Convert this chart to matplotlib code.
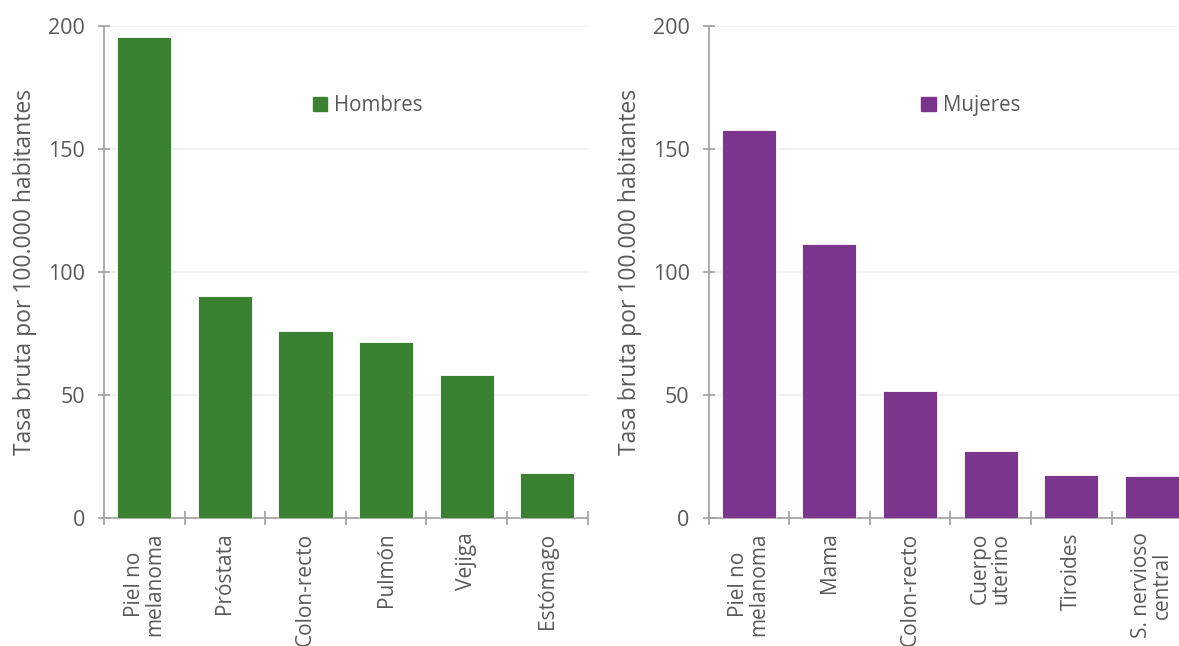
import matplotlib
matplotlib.use("Agg")
import matplotlib.pyplot as plt
from matplotlib.patches import Patch

plt.rcParams['font.family'] = ['Open Sans', 'DejaVu Sans']

cats_h = ["Piel no\nmelanoma", "Próstata", "Colon-recto", "Pulmón", "Vejiga", "Estómago"]
vals_h = [195.4, 90.1, 75.9, 71.4, 57.9, 18.3]
cats_m = ["Piel no\nmelanoma", "Mama", "Colon-recto", "Cuerpo\nuterino", "Tiroides", "S. nervioso\ncentral"]
vals_m = [157.5, 111.3, 51.5, 27.0, 17.5, 17.1]
yticks = [0, 50, 100, 150, 200]
ylabel = "Tasa bruta por 100.000 habitantes"

green = "#3A8231"
purple = "#7B358C"
gray = "#A6A6A6"
txt = "#595959"

fig = plt.figure(figsize=(11.79, 6.46), dpi=100)
ax1 = fig.add_axes([104/1179, 128.3/646, 483.6/1179, 492/646])
ax2 = fig.add_axes([708.5/1179, 128.3/646, 483.6/1179, 492/646])

for ax, cats, vals, col, name, lx in [
        (ax1, cats_h, vals_h, green, "Hombres", 0.432),
        (ax2, cats_m, vals_m, purple, "Mujeres", 0.44)]:
    x = list(range(len(cats)))
    ax.bar(x, vals, width=0.67, color=col, edgecolor="#FFFFFF", linewidth=0.6, zorder=3)
    ax.set_xlim(-0.5, len(cats) - 0.5)
    ax.set_ylim(0, 200)
    ax.set_yticks(yticks)
    ax.set_yticklabels([str(t) for t in yticks])
    ax.grid(axis='y', color="#EFEFEF", linewidth=1.2, zorder=0)
    ax.set_axisbelow(True)
    for s in ['top', 'right']:
        ax.spines[s].set_visible(False)
    for s in ['left', 'bottom']:
        ax.spines[s].set_color(gray)
        ax.spines[s].set_linewidth(1.3)
    ax.tick_params(axis='y', direction='inout', length=9, width=1.3, color=gray,
                   labelsize=15.5, labelcolor=txt, pad=9)
    ax.set_xticks([i - 0.5 for i in range(len(cats) + 1)])
    ax.set_xticklabels([])
    ax.tick_params(axis='x', direction='inout', length=10, width=1.3, color=gray)
    for i, c in enumerate(cats):
        ax.text(i, -0.03, c, transform=ax.get_xaxis_transform(), rotation=90,
                ha='center', va='top', multialignment='center',
                fontsize=15, color=txt, linespacing=0.95)
    ax.set_ylabel(ylabel, fontsize=16.5, color=txt)
    ax.yaxis.set_label_coords(-0.138, 0.5)
    leg = ax.legend(handles=[Patch(facecolor=col, edgecolor=col)], labels=[name],
                    loc='center left', bbox_to_anchor=(lx, 0.837), frameon=False,
                    fontsize=14.8, handlelength=0.7, handleheight=0.7, handletextpad=0.35,
                    borderaxespad=0, borderpad=0)
    for t in leg.get_texts():
        t.set_color(txt)

fig.savefig("out.png", dpi=100)
